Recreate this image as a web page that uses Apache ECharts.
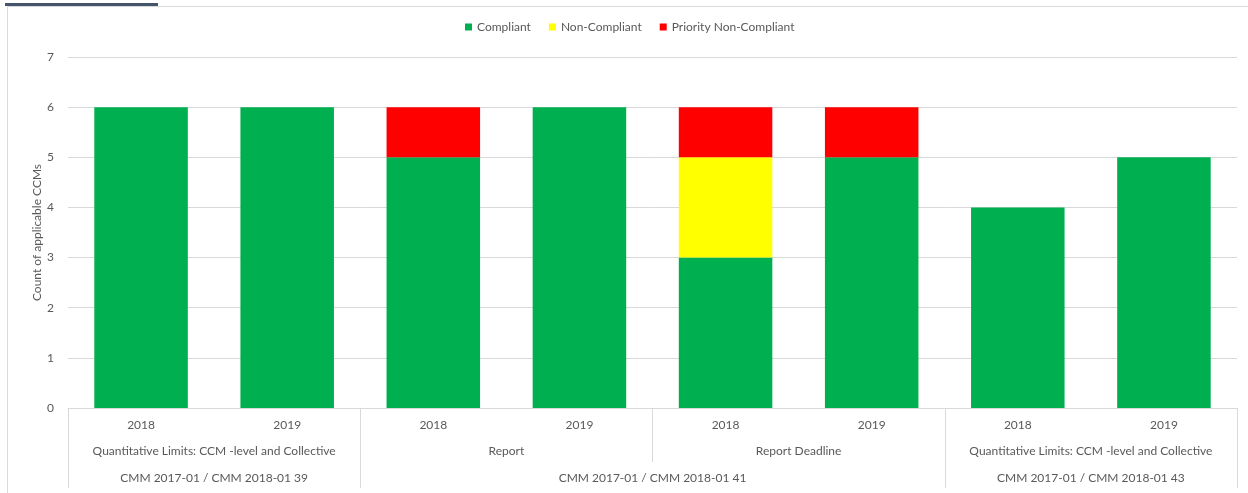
<!DOCTYPE html>
<html>
<head>
<meta charset="utf-8">
<script src="https://cdn.jsdelivr.net/npm/echarts@6/dist/echarts.min.js"></script>
<style>
html,body{margin:0;padding:0;background:#fff;}
#chart{width:1248px;height:493px;}
</style>
</head>
<body>
<div id="chart"></div>
<script>
const years = ['2018','2019','2018','2019','2018','2019','2018','2019'];
const level2Labels = ['Quantitative Limits: CCM -level and Collective','Report','Report Deadline','Quantitative Limits: CCM -level and Collective'];
const level2Pos = [1,3,5,7];
const level2Ticks = [0,2,6,8];
const level3Labels = ['CMM 2017-01 / CMM 2018-01 39','CMM 2017-01 / CMM 2018-01 41','CMM 2017-01 / CMM 2018-01 43'];
const level3Pos = [1,4,7];
const level3Ticks = [4];
const compliant = [6,6,5,6,3,5,4,5];
const nonCompliant = [0,0,0,0,2,0,0,0];
const priorityNonCompliant = [0,0,1,0,1,1,0,0];
const yTicks = [0,1,2,3,4,5,6,7];

const FONT = 'Lato';
const TXT = '#595959';
const LINE = '#D9D9D9';

const chart = echarts.init(document.getElementById('chart'));
chart.setOption({
  animation:false,
  textStyle:{fontFamily:FONT},
  graphic:[
    {type:'rect',shape:{x:7.5,y:6.5,width:1260,height:520},style:{fill:'none',stroke:LINE,lineWidth:1},silent:true,z:-10},
    {type:'rect',shape:{x:5,y:3,width:153,height:3},style:{fill:'#44546A'},silent:true}
  ],
  legend:{
    left:460, top:16,
    icon:'rect', itemWidth:7, itemHeight:7, itemGap:18,
    textStyle:{color:TXT,fontSize:12,fontFamily:FONT},
    data:['Compliant','Non-Compliant','Priority Non-Compliant']
  },
  grid:{left:68,right:11,top:57,bottom:85,outerBoundsMode:'none',containLabel:false},
  xAxis:[
    {type:'category',data:years,position:'bottom',
     axisLine:{show:true,lineStyle:{color:LINE,width:1}},
     axisTick:{show:false},
     axisLabel:{color:TXT,fontSize:12,fontFamily:FONT,margin:11,interval:0}},
    {type:'value',min:0,max:8,position:'bottom',
     axisLine:{show:false},splitLine:{show:false},
     axisTick:{show:true,customValues:level2Ticks,length:80,lineStyle:{color:LINE,width:1}},
     axisLabel:{show:true,customValues:level2Pos,color:TXT,fontSize:12,fontFamily:FONT,margin:37,
       formatter:function(v){const i=level2Pos.indexOf(Math.round(v));return i>=0?level2Labels[i]:'';}}},
    {type:'value',min:0,max:8,position:'bottom',
     axisLine:{show:false},splitLine:{show:false},
     axisTick:{show:true,customValues:level3Ticks,length:54,lineStyle:{color:LINE,width:1}},
     axisLabel:{show:true,customValues:level3Pos,color:TXT,fontSize:12,fontFamily:FONT,margin:64,
       formatter:function(v){const i=level3Pos.indexOf(Math.round(v));return i>=0?level3Labels[i]:'';}}}
  ],
  yAxis:{
    type:'value',min:yTicks[0],max:yTicks[yTicks.length-1],interval:1,
    name:'Count of applicable CCMs',nameLocation:'middle',nameGap:25,nameRotate:90,nameMoveOverlap:false,
    nameTextStyle:{color:TXT,fontSize:12,fontFamily:FONT},
    axisLine:{show:false},axisTick:{show:false},
    axisLabel:{color:TXT,fontSize:12,fontFamily:FONT,margin:14},
    splitLine:{lineStyle:{color:LINE,width:1}}
  },
  series:[
    {name:'Compliant',type:'bar',stack:'s',data:compliant,barWidth:'64%',itemStyle:{color:'#00B050'}},
    {name:'Non-Compliant',type:'bar',stack:'s',data:nonCompliant,barWidth:'64%',itemStyle:{color:'#FFFF00'}},
    {name:'Priority Non-Compliant',type:'bar',stack:'s',data:priorityNonCompliant,barWidth:'64%',itemStyle:{color:'#FF0000'}}
  ]
});
</script>
</body>
</html>
